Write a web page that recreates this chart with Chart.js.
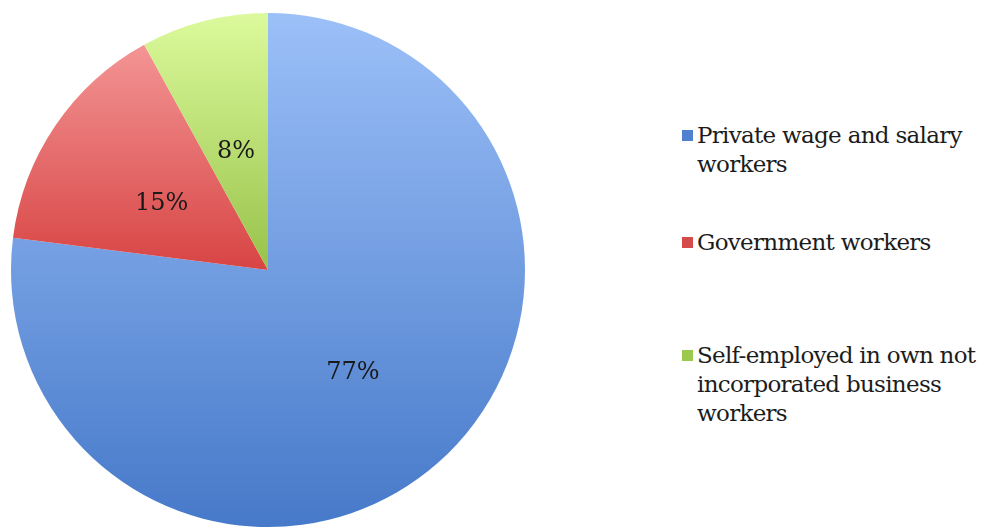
<!DOCTYPE html>
<html>
<head>
<meta charset="utf-8">
<script src="https://cdn.jsdelivr.net/npm/chart.js@4/dist/chart.umd.min.js"></script>
<style>
    html, body { margin: 0; padding: 0; background: #fff; }
    #wrap { position: relative; width: 992px; height: 529px; overflow: hidden; }
    #pieBox { position: absolute; left: 0; top: 0; width: 525px; height: 529px; }
    #legend { position: absolute; left: 0; top: 0; font-family: "DejaVu Serif", serif; font-size: 23px; color: #1c1c1c; }
    .item { position: absolute; left: 682px; width: 310px; }
    .sw { position: absolute; left: 0; top: 9px; width: 11px; height: 11px; }
    .txt { position: absolute; left: 15px; line-height: 29px; white-space: nowrap; letter-spacing: -0.7px; }
</style>
</head>
<body>
<div id="wrap">
    <div id="pieBox"><canvas id="pieChart"></canvas></div>
    <div id="legend"></div>
</div>
<script>
    // worker classes and their shares
    var categories = [
        "Private wage and salary workers",
        "Government workers",
        "Self-employed in own not incorporated business workers"
    ];
    var legendLines = [
        ["Private wage and salary", "workers"],
        ["Government workers"],
        ["Self-employed in own not", "incorporated business", "workers"]
    ];
    var shares = [77, 15, 8];

    // light (top) / dark (bottom) colours for each slice
    var lightColors = ["#9cc0f8", "#f7a0a0", "#dcfa9c"];
    var darkColors = ["#4679c9", "#d84444", "#98c24a"];
    var swatchColors = ["#4f81d0", "#d54b4b", "#9bc94e"];

    var legendTops = [121, 228, 341];

    // html legend
    var legendEl = document.getElementById("legend");
    legendLines.forEach(function (lines, i) {
        var item = document.createElement("div");
        item.className = "item";
        item.style.top = legendTops[i] + "px";
        var sw = document.createElement("div");
        sw.className = "sw";
        sw.style.background = swatchColors[i];
        var txt = document.createElement("div");
        txt.className = "txt";
        txt.innerHTML = lines.join("<br>");
        item.appendChild(sw);
        item.appendChild(txt);
        legendEl.appendChild(item);
    });

    function sliceFill(context) {
        var chart = context.chart;
        var area = chart.chartArea;
        var i = context.dataIndex;
        if (!area) {
            return darkColors[i];
        }
        var top = area.top;
        // red and green only reach down to the centre
        var bottom = i === 0 ? area.bottom : (area.top + area.bottom) / 2;
        var g = chart.ctx.createLinearGradient(0, top, 0, bottom);
        g.addColorStop(0, lightColors[i]);
        g.addColorStop(1, darkColors[i]);
        return g;
    }

    // percentage text inside each slice
    var sliceLabels = {
        id: "sliceLabels",
        afterDatasetsDraw: function (chart) {
            var ctx = chart.ctx;
            var meta = chart.getDatasetMeta(0);
            ctx.save();
            ctx.font = "24px 'DejaVu Serif', serif";
            ctx.fillStyle = "#1a1a1a";
            ctx.textAlign = "center";
            ctx.textBaseline = "middle";
            meta.data.forEach(function (arc, i) {
                var p = arc.getProps(["x", "y", "startAngle", "endAngle", "outerRadius"], true);
                var mid = (p.startAngle + p.endAngle) / 2;
                var r = p.outerRadius * 0.5;
                var x = p.x + Math.cos(mid) * r;
                var y = p.y + Math.sin(mid) * r + 6;
                ctx.fillText(shares[i] + "%", x, y);
            });
            ctx.restore();
        }
    };

    var ctx = document.getElementById("pieChart").getContext("2d");
    var pieChart = new Chart(ctx, {
        type: "pie",
        data: {
            labels: categories,
            datasets: [{
                data: shares,
                backgroundColor: sliceFill,
                borderWidth: 0
            }]
        },
        options: {
            responsive: true,
            maintainAspectRatio: false,
            animation: false,
            layout: {
                padding: { left: 11, top: 13, bottom: 2, right: 0 }
            },
            plugins: {
                legend: { display: false },
                tooltip: { enabled: false }
            }
        },
        plugins: [sliceLabels]
    });
</script>
</body>
</html>
